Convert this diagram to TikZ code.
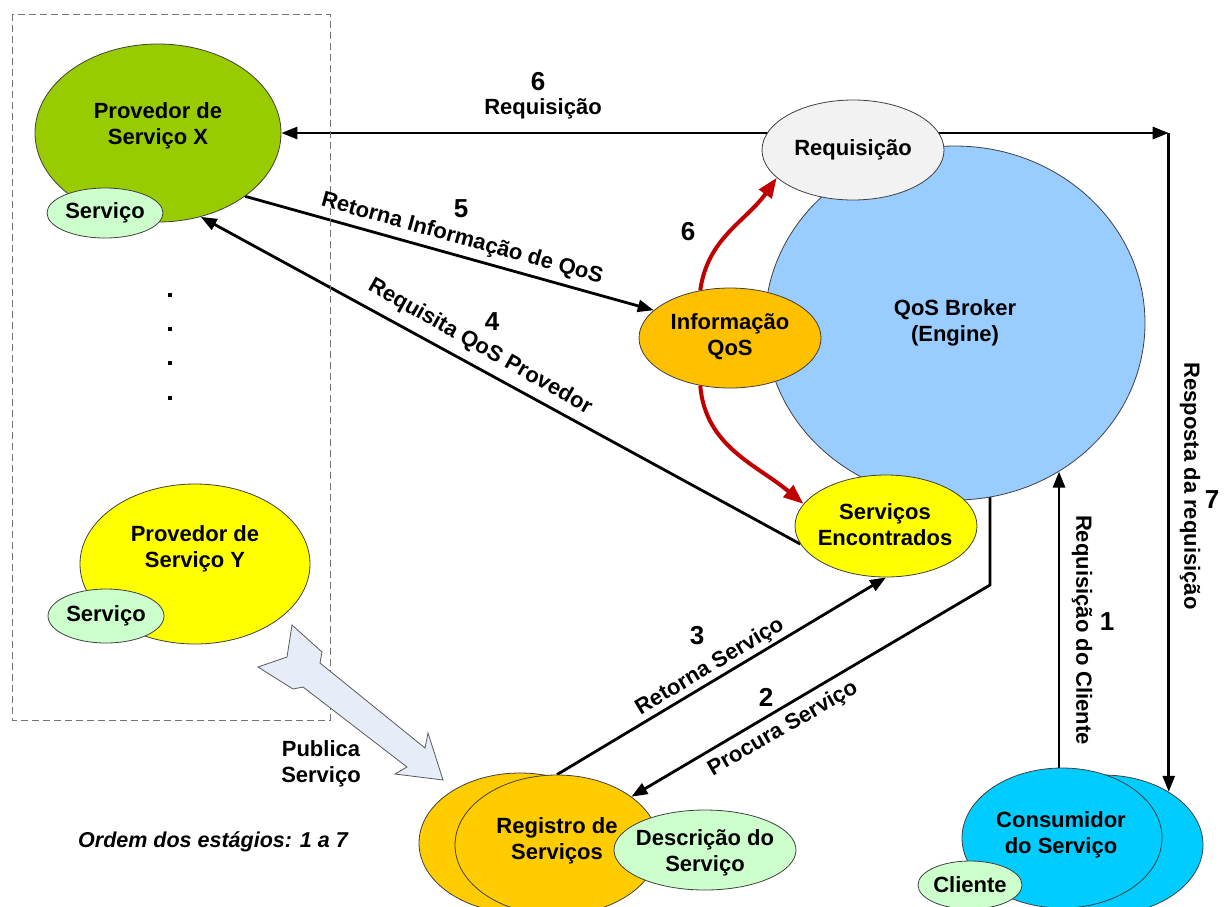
\documentclass[tikz,border=0pt]{standalone}
\usepackage{fontspec}
\setmainfont{Liberation Sans}
\usetikzlibrary{shapes.geometric,arrows.meta,backgrounds}

\definecolor{cProvX}{HTML}{99CC00}
\definecolor{cServ}{HTML}{CCFFCC}
\definecolor{cYellow}{HTML}{FFFF00}
\definecolor{cReq}{HTML}{F2F2F2}
\definecolor{cBroker}{HTML}{99CCFF}
\definecolor{cInfo}{HTML}{FFC000}
\definecolor{cReg}{HTML}{FFCC00}
\definecolor{cCons}{HTML}{00CCFF}
\definecolor{cPub}{HTML}{E6ECF8}
\definecolor{qred}{HTML}{C00000}

\begin{document}
\begin{tikzpicture}[x=1pt,y=-1pt,
  every node/.style={font=\bfseries\fontsize{22}{26}\selectfont, inner sep=0pt},
  ell/.style={ellipse, draw=black!75, line width=0.8pt, inner sep=0pt},
  txt/.style={align=center, inner sep=0pt},
  num/.style={font=\bfseries\fontsize{26}{30}\selectfont, inner sep=0pt},
  arr/.style={line width=2.8pt, -{Triangle[length=16pt,width=12pt]}},
  redarr/.style={draw=qred, line width=4pt, -{Triangle[length=20pt,width=15pt]}},
]
\useasboundingbox (0,0) rectangle (1225,906);

% provider group
\draw[dashed, dash pattern=on 7pt off 4pt, black!55, line width=1pt] (12,14) rectangle (330,720);

\node[ell, fill=cProvX, minimum width=246pt, minimum height=178pt] (provX) at (158,133) {};
\node[txt] (provXt) at (158,126) {Provedor de\\Serviço X};
\node[ell, fill=cServ, minimum width=116pt, minimum height=50pt] (servX) at (105,213) {};
\node[txt] (servXt) at (servX) {Serviço};

\foreach \yy in {293,327,361,396}
  \fill (168,\yy) rectangle (172,\yy+4);

\node[ell, fill=cYellow, minimum width=230pt, minimum height=160pt] (provY) at (195,564) {};
\node[txt] (provYt) at (195,549) {Provedor de\\Serviço Y};
\node[ell, fill=cServ, minimum width=116pt, minimum height=54pt] (servY) at (106,616) {};
\node[txt] (servYt) at (servY) {Serviço};

% broker and its parts
\node[ell, fill=cBroker, minimum width=380pt, minimum height=354pt] (broker) at (955,323) {};
\node[txt] (brokert) at (955,323) {QoS Broker\\(Engine)};
\node[ell, fill=cReq, minimum width=182pt, minimum height=100pt] (req) at (853,150) {};
\node[txt] (reqt) at (req) {Requisição};
\node[ell, fill=cInfo, minimum width=182pt, minimum height=100pt] (info) at (730,338) {};
\node[txt] (infot) at (730,337) {Informação\\QoS};
\node[ell, fill=cYellow, minimum width=182pt, minimum height=102pt] (servEnc) at (886,526) {};
\node[txt] (servEnct) at (885,525) {Serviços\\Encontrados};

% registry
\node[ell, fill=cReg, minimum width=202pt, minimum height=140pt] (regB) at (520,843) {};
\node[ell, fill=cReg, minimum width=204pt, minimum height=140pt] (regF) at (557,845) {};
\node[txt] (regt) at (557,841) {Registro de\\Serviços};
\node[ell, fill=cServ, minimum width=182pt, minimum height=80pt] (desc) at (705,850) {};
\node[txt] (desct) at (705,853) {Descrição do\\Serviço};

% consumer
\node[ell, fill=cCons, minimum width=200pt, minimum height=140pt] (consB) at (1103,845) {};
\node[ell, fill=cCons, minimum width=200pt, minimum height=140pt] (consF) at (1062,838) {};
\node[txt] (const) at (1061,835) {Consumidor\\do Serviço};
\node[ell, fill=cServ, minimum width=104pt, minimum height=48pt] (cli) at (970,885) {};
\node[txt] (clit) at (cli) {Cliente};

% connectors behind the shapes
\coordinate (corner) at (consB.39 |- provX.east);
\coordinate (bend) at (990,585);
\begin{pgfonlayer}{background}
  \draw[arr] (req.center |- provX.east) -- (provX.east);
  \draw[arr] (req.center |- provX.east) -- (corner);
  \draw[arr] (corner) -- (consB.39);
  \draw[arr] (provX.-36.5) -- (info.160);
  \draw[arr] (servEnc.192.5) -- (provX.-63);
  \draw[arr] (regF.north) -- (servEnc.south);
  \draw[arr] (bend |- broker.center) -- (bend) -- (regF.33);
  \draw[arr] (broker.-55.7 |- consF.north) -- (broker.-55.7);
\end{pgfonlayer}

% red flows of stage 6
\draw[redarr] (info.122) to[out=82,in=235] (req.200);
\draw[redarr] (info.238) to[out=-85,in=140] (servEnc.165);

% publication arrow
\draw[fill=cPub, draw=black!65, line width=0.8pt, line join=miter]
  (292,625) -- (322,652) -- (320,663) -- (425,748) -- (428,733) -- (443,780)
  -- (395,774) -- (407,767) -- (303,687) -- (293,689) -- (258,667) -- (287,657) -- cycle;

% labels
\node[num] (n6) at (538,82) {6};
\node (l6) at (543,109) {Requisição};
\node[rotate=-15.5] (l5) at (462,239) {Retorna Informação de QoS};
\node[num] (n5) at (461,209) {5};
\node[rotate=-29.5] (l4) at (480,347) {Requisita QoS Provedor};
\node[num] (n4) at (492,322) {4};
\node[num] (n6r) at (688,232) {6};
\node[rotate=31] (l3) at (710,667) {Retorna Serviço};
\node[num] (n3) at (697,636) {3};
\node[rotate=30] (l2) at (783,729) {Procura Serviço};
\node[num] (n2) at (766,697) {2};
\node[rotate=-90] (l1) at (1082,630) {Requisição do Cliente};
\node[num] (n1) at (1107,622) {1};
\node[rotate=-90] (l7) at (1190,486) {Resposta da requisição};
\node[num] (n7) at (1212,500) {7};
\node[txt] (pub) at (321,764) {Publica\\Serviço};
\node[font=\bfseries\itshape\fontsize{21.5}{26}\selectfont] (ordem) at (213,842) {Ordem dos estágios: 1 a 7};
\end{tikzpicture}
\end{document}
